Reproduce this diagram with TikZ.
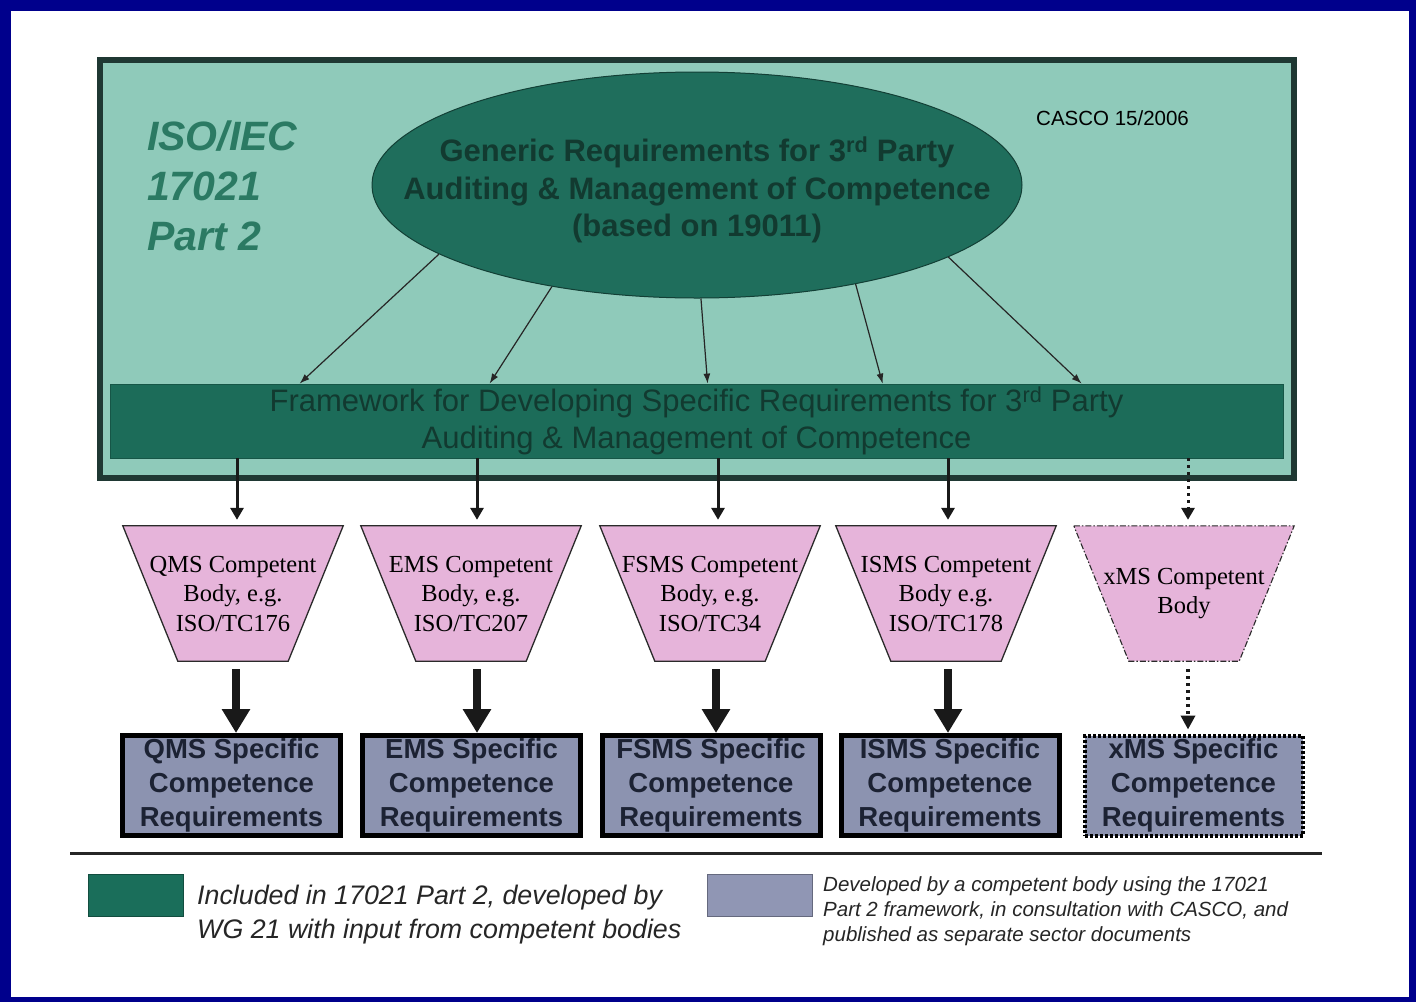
\documentclass[tikz,border=0pt]{standalone}
\usepackage{fontspec}
\setmainfont{Liberation Serif}
\setsansfont{Liberation Sans}
\usetikzlibrary{arrows.meta,shapes.geometric}
\definecolor{navyframe}{HTML}{00008C}
\definecolor{mainfill}{HTML}{8FCABA}
\definecolor{mainborder}{HTML}{1F3833}
\definecolor{genfill}{HTML}{1F6E5C}
\definecolor{genborder}{HTML}{123F35}
\definecolor{gentext}{HTML}{123A30}
\definecolor{barfill}{HTML}{1C6C59}
\definecolor{isogreen}{HTML}{2B7A63}
\definecolor{pinkfill}{HTML}{E6B4DA}
\definecolor{trapborder}{HTML}{2A2A2A}
\definecolor{boxgrey}{HTML}{8C93B0}
\definecolor{boxtext}{HTML}{1C2233}
\definecolor{leggreen}{HTML}{1A6E5A}
\definecolor{leggrey}{HTML}{9096B4}
\pgfdeclarelayer{background}
\pgfsetlayers{background,main}
\tikzset{
  tz/.style={minimum width=220pt, minimum height=135pt, inner sep=0pt, align=center,
    font=\fontsize{24.5}{29.5}\selectfont, text=black},
  spec/.style={draw=black, line width=5pt, fill=boxgrey, minimum width=218pt, minimum height=100pt,
    inner sep=0pt, align=center, text=boxtext, font=\sffamily\bfseries\fontsize{27.5}{34}\selectfont},
  thinarrow/.style={draw=black!85, line width=1.2pt, -{Latex[length=10pt,width=7pt]}},
  midarrow/.style={draw=black!90, line width=3pt, -{Triangle[length=12pt,width=13pt]}},
  dotarrow/.style={draw=black!90, line width=3pt, dash pattern=on 3pt off 4pt, -{Triangle[length=12pt,width=13pt]}},
  bigarrow/.style={draw=black!90, line width=8pt, -{Triangle[length=24pt,width=27pt]}},
  dotbigarrow/.style={draw=black!90, line width=3.5pt, dash pattern=on 3pt off 4pt, -{Triangle[length=14pt,width=14pt]}},
}
\begin{document}
\begin{tikzpicture}[x=1pt,y=-1pt]
\useasboundingbox (0,0) rectangle (1416,1002);
\begin{pgfonlayer}{background}
\fill[navyframe] (0,0) rectangle (1416,1002);
\fill[white] (11,11) rectangle (1409,997);
\end{pgfonlayer}

% main box
\node[draw=mainborder, line width=6pt, fill=mainfill, minimum width=1194pt, minimum height=418pt, inner sep=0pt] (main) at (697,269) {};

% ellipse
\node[ellipse, draw=genborder, line width=1pt, fill=genfill, minimum width=650pt, minimum height=226pt, inner sep=0pt] (gen) at (697,185) {};
\node[align=center, inner sep=0pt, text=gentext, font=\sffamily\bfseries\fontsize{31}{37.5}\selectfont] (gentxt) at ([yshift=-5pt]gen.center)
  {Generic Requirements for 3\textsuperscript{rd} Party\\Auditing \& Management of Competence\\(based on 19011)};

% ISO/IEC label
\node[anchor=west, align=left, text=isogreen, inner sep=0pt, font=\sffamily\bfseries\itshape\fontsize{41}{50}\selectfont] (iso) at (147,186) {ISO/IEC\\17021\\Part 2};

% CASCO label
\node[anchor=west, inner sep=0pt, font=\sffamily\fontsize{20.5}{22}\selectfont] (casco) at (1036,118) {CASCO 15/2006};

% framework bar
\node[fill=barfill, draw=barfill!80!black, line width=0.8pt, minimum width=1173pt, minimum height=74pt, inner sep=0pt,
  align=center, text=gentext, font=\sffamily\fontsize{31}{37}\selectfont] (bar) at (696.5,421)
  {Framework for Developing Specific Requirements for 3\textsuperscript{rd} Party\\Auditing \& Management of Competence};

% arrow targets on bar
\coordinate (e1) at ([xshift=190pt]bar.north west);
\coordinate (e2) at ([xshift=380pt]bar.north west);
\coordinate (e3) at ([xshift=598pt]bar.north west);
\coordinate (e4) at ([xshift=773pt]bar.north west);
\coordinate (e5) at ([xshift=972pt]bar.north west);
\draw[thinarrow] (gen.-165) -- (e1);
\draw[thinarrow] (gen.-145.7) -- (e2);
\draw[thinarrow] (gen.-88) -- (e3);
\draw[thinarrow] (gen.-32.5) -- (e4);
\draw[thinarrow] (gen.-16) -- (e5);

% trapezoids
\node[tz] (t1) at (233,593.5) {QMS Competent\\Body, e.g.\\ISO/TC176};
\node[tz] (t2) at (471,593.5) {EMS Competent\\Body, e.g.\\ISO/TC207};
\node[tz] (t3) at (710,593.5) {FSMS Competent\\Body, e.g.\\ISO/TC34};
\node[tz] (t4) at (946,593.5) {ISMS Competent\\Body e.g.\\ISO/TC178};
\node[tz] (t5) at (1184,593.5) {xMS Competent\\Body};
\begin{pgfonlayer}{background}
\foreach \n in {t1,t2,t3,t4}
  \filldraw[fill=pinkfill, draw=trapborder, line width=1.3pt]
    (\n.north west) -- (\n.north east) -- ([xshift=-55pt]\n.south east) -- ([xshift=55pt]\n.south west) -- cycle;
\filldraw[fill=pinkfill, draw=trapborder, line width=1.1pt, dash pattern=on 6pt off 2pt on 1.5pt off 2pt]
    (t5.north west) -- (t5.north east) -- ([xshift=-55pt]t5.south east) -- ([xshift=55pt]t5.south west) -- cycle;
\end{pgfonlayer}

% specific requirement boxes
\node[spec] (b1) at (231.5,785.5) {QMS Specific\\Competence\\Requirements};
\node[spec] (b2) at (471.5,785.5) {EMS Specific\\Competence\\Requirements};
\node[spec] (b3) at (711,785.5) {FSMS Specific\\Competence\\Requirements};
\node[spec] (b4) at (950,785.5) {ISMS Specific\\Competence\\Requirements};
\node[spec, line width=4pt, dash pattern=on 3pt off 2pt] (b5) at (1193.5,785.5) {xMS Specific\\Competence\\Requirements};

% bar -> trapezoid arrows
\draw[midarrow] ([xshift=4pt]t1.north |- bar.south) -- ([xshift=4pt,yshift=6pt]t1.north);
\draw[midarrow] ([xshift=6pt]t2.north |- bar.south) -- ([xshift=6pt,yshift=6pt]t2.north);
\draw[midarrow] ([xshift=8pt]t3.north |- bar.south) -- ([xshift=8pt,yshift=6pt]t3.north);
\draw[midarrow] ([xshift=2pt]t4.north |- bar.south) -- ([xshift=2pt,yshift=6pt]t4.north);
\draw[dotarrow] ([xshift=4pt]t5.north |- bar.south) -- ([xshift=4pt,yshift=6pt]t5.north);

% trapezoid -> box arrows
\draw[bigarrow] ([xshift=3pt,yshift=-8pt]t1.south) -- ([xshift=3pt]t1.south |- b1.north);
\draw[bigarrow] ([xshift=6pt,yshift=-8pt]t2.south) -- ([xshift=6pt]t2.south |- b2.north);
\draw[bigarrow] ([xshift=6pt,yshift=-8pt]t3.south) -- ([xshift=6pt]t3.south |- b3.north);
\draw[bigarrow] ([xshift=2pt,yshift=-8pt]t4.south) -- ([xshift=2pt]t4.south |- b4.north);
\draw[dotbigarrow] ([xshift=4pt,yshift=-8pt]t5.south) -- ([xshift=4pt,yshift=4pt]t5.south |- b5.north);

% separator
\draw[line width=3pt, black!85] (70,853) -- (1322,853);

% legend
\node[fill=leggreen, draw=leggreen!70!black, line width=0.8pt, minimum width=95pt, minimum height=42pt, inner sep=0pt] (lg1) at (135.5,895) {};
\node[anchor=west, align=left, inner sep=0pt, text=black!85, font=\sffamily\itshape\fontsize{26.8}{34}\selectfont] (lt1) at (197,915)
  {Included in 17021 Part 2, developed by\\WG 21 with input from competent bodies};
\node[fill=leggrey, draw=leggrey!70!black, line width=0.8pt, minimum width=105pt, minimum height=42pt, inner sep=0pt] (lg2) at (759.5,895) {};
\node[anchor=west, align=left, inner sep=0pt, text=black!85, font=\sffamily\itshape\fontsize{20.5}{25}\selectfont] (lt2) at (823,911)
  {Developed by a competent body using the 17021\\Part 2 framework, in consultation with CASCO, and\\published as separate sector documents};
\end{tikzpicture}
\end{document}
